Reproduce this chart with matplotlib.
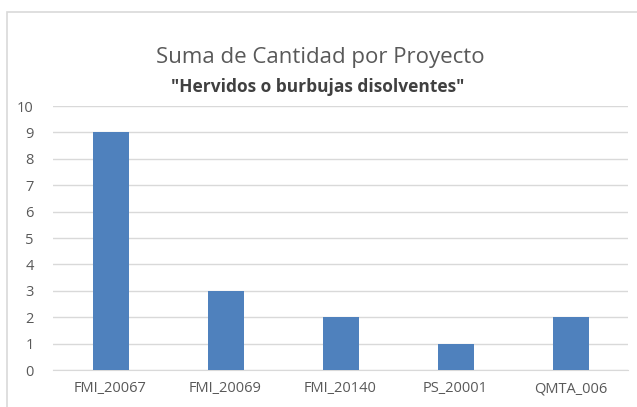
import matplotlib
matplotlib.use("Agg")
import matplotlib.pyplot as plt
from matplotlib.patches import Rectangle

categories = ["FMI_20067", "FMI_20069", "FMI_20140", "PS_20001", "QMTA_006"]
values = [9, 3, 2, 1, 2]
yticks = list(range(0, 11))

plt.rcParams['font.family'] = ['Open Sans', 'DejaVu Sans']

W, H = 637, 407
fig = plt.figure(figsize=(W/100, H/100), dpi=100)
fig.patch.set_facecolor('white')

# chart frame
fig.patches.append(Rectangle((7/W, -0.1), 1.2, (H-12)/H + 0.1, transform=fig.transFigure,
                             fill=False, edgecolor='#d9d9d9', linewidth=1.2))

ax = fig.add_axes([53/W, 1-370/H, (628-53)/W, (370-106)/H])
x = range(len(categories))
ax.bar(x, values, width=36/115, color='#4f81bd', zorder=3)
ax.set_xlim(-0.5, len(categories)-0.5)
ax.set_ylim(0, 10)
ax.set_yticks(yticks)
ax.set_xticks(list(x))
ax.set_xticklabels(categories)
ax.grid(axis='y', color='#d9d9d9', linewidth=1, zorder=0)
for s in ax.spines.values():
    s.set_visible(False)
ax.spines['bottom'].set_visible(True)
ax.spines['bottom'].set_color('#d9d9d9')
ax.tick_params(axis='both', length=0, colors='#595959', labelsize=10.5)
ax.tick_params(axis='y', pad=14)
ax.tick_params(axis='x', pad=8)

fig.text(320/W, 1-57/H, "Suma de Cantidad por Proyecto", ha='center', va='center',
         fontsize=16, color='#595959')
fig.text(318/W, 1-87/H, '"Hervidos o burbujas disolventes"', ha='center', va='center',
         fontsize=12.5, color='#404040', fontweight='bold')

fig.savefig("out.png", dpi=100)
